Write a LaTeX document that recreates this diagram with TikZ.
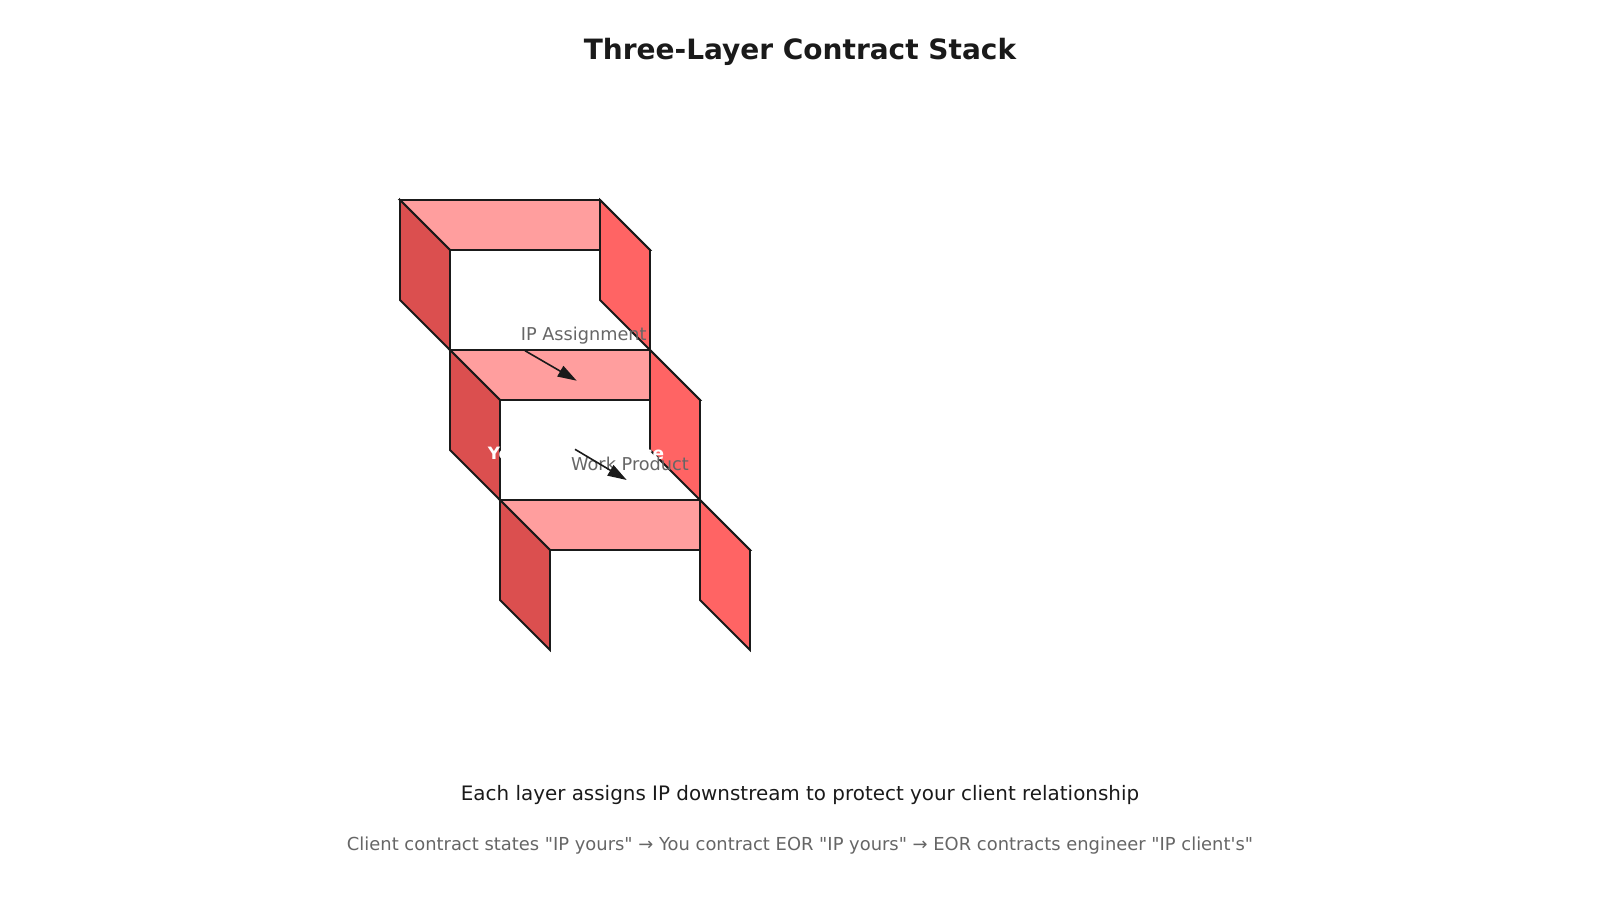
\documentclass[tikz,border=0pt]{standalone}
\usepackage{fontspec}
\setmainfont{DejaVu Sans}[Ligatures=TeXOff]
\usepackage{tikz}
\usetikzlibrary{arrows.meta}

\definecolor{topred}{HTML}{FF9E9E}
\definecolor{leftred}{HTML}{DB4F4F}
\definecolor{rightred}{HTML}{FF6464}
\definecolor{edgeblack}{HTML}{1A1A1A}
\definecolor{textgray}{HTML}{666666}
\definecolor{textblack}{HTML}{1A1A1A}

\begin{document}
\begin{tikzpicture}[x=1pt,y=-1pt,>={Triangle[length=19pt,width=12pt]}]
\tikzset{font=\fontsize{17.7}{21}\selectfont}
\tikzset{side/.style={draw=edgeblack,line width=1.8pt,line join=miter},
         topside/.style={side,fill=topred},
         leftside/.style={side,fill=leftred},
         rightside/.style={side,fill=rightred},
         flowlabel/.style={text=textgray,inner sep=0pt},
         flowarrow/.style={->,draw=edgeblack,fill=edgeblack,line width=1.6pt}}

\useasboundingbox (0,0) rectangle (1600,900);

        \node[font=\fontsize{28}{34}\selectfont\bfseries,text=textblack,inner sep=0pt] (title) at (800,52) {Three-Layer Contract Stack};

        % top layer
        \filldraw[topside]   (400,200) -- (600,200) -- (650,250) -- (450,250) -- cycle;
        \filldraw[leftside]  (400,200) -- (450,250) -- (450,350) -- (400,300) -- cycle;
        \filldraw[rightside] (600,200) -- (650,250) -- (650,350) -- (600,300) -- cycle;

        % middle layer
        \filldraw[topside]   (450,350) -- (650,350) -- (700,400) -- (500,400) -- cycle;
        \filldraw[leftside]  (450,350) -- (500,400) -- (500,500) -- (450,450) -- cycle;
        \filldraw[rightside] (650,350) -- (700,400) -- (700,500) -- (650,450) -- cycle;

        % bottom layer
        \filldraw[topside]   (500,500) -- (700,500) -- (750,550) -- (550,550) -- cycle;
        \filldraw[leftside]  (500,500) -- (550,550) -- (550,650) -- (500,600) -- cycle;
        \filldraw[rightside] (700,500) -- (750,550) -- (750,650) -- (700,600) -- cycle;

        \node[font=\fontsize{17}{20}\selectfont\bfseries,text=white,inner sep=0pt] (you) at (576,453) {You → EOR Service};

        \node[flowlabel] (ip)   at (583.7,336) {IP Assignment};
        \node[flowlabel] (work) at (630,464)   {Work Product};

        \coordinate (ipfrom)   at (525,350.7);
        \coordinate (ipto)     at (576.7,380.7);
        \coordinate (workfrom) at (575,449.3);
        \coordinate (workto)   at (626.7,480);

        \draw[flowarrow] (ipfrom) -- (ipto);
        \draw[flowarrow] (workfrom) -- (workto);

        \node[font=\fontsize{19.9}{24}\selectfont,text=textblack,inner sep=0pt] (note) at (800,795) {Each layer assigns IP downstream to protect your client relationship};
        \node[font=\fontsize{17.9}{21}\selectfont,text=textgray,inner sep=0pt] (chain) at (800,846) {Client contract states "IP yours" → You contract EOR "IP yours" → EOR contracts engineer "IP client's"};

\end{tikzpicture}
\end{document}
